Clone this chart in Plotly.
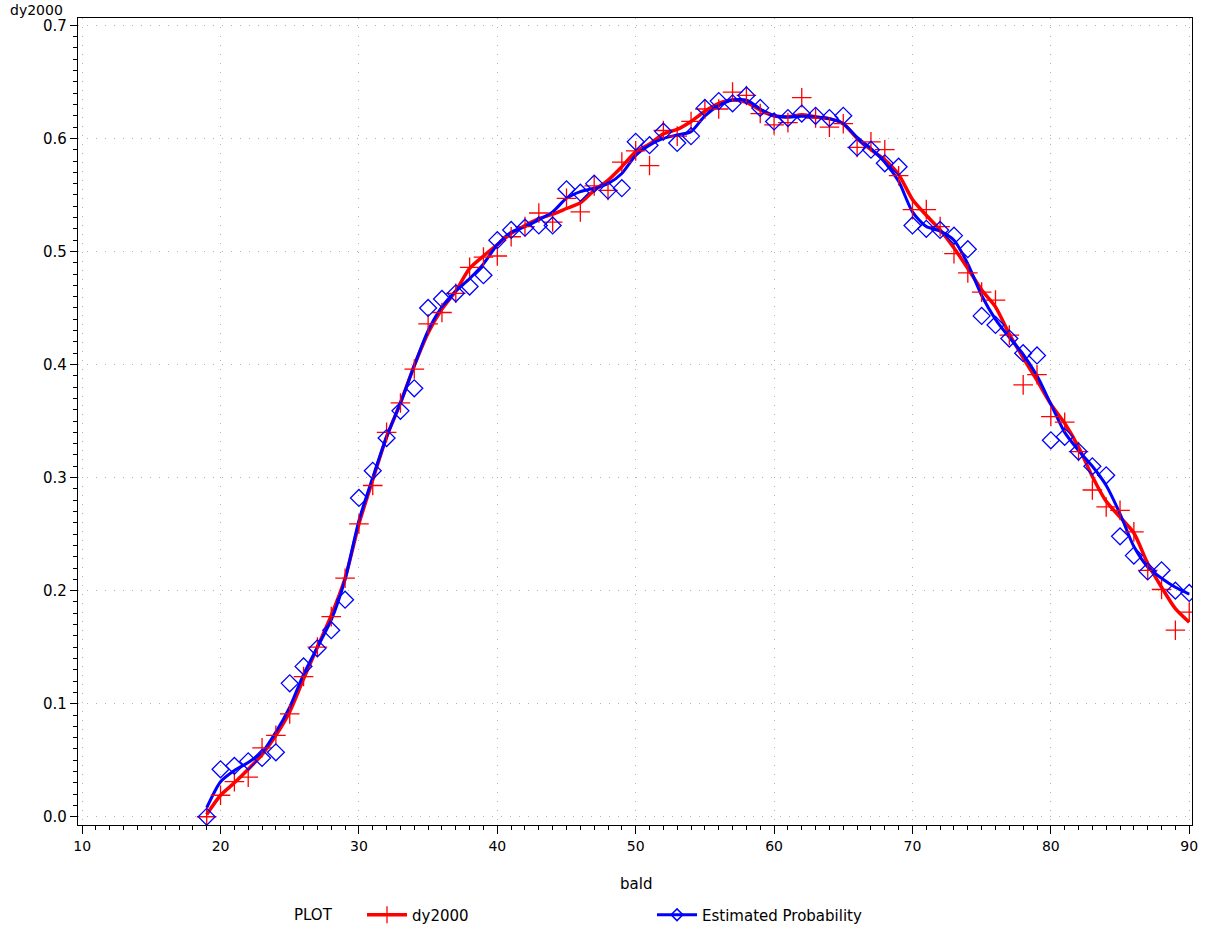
import plotly.graph_objects as go

# ---------------- data ----------------
bald = list(range(19, 91))

dy2000 = [0.000, 0.019, 0.031, 0.035, 0.061, 0.072, 0.091, 0.124, 0.150, 0.177,
          0.211, 0.259, 0.293, 0.340, 0.366, 0.396, 0.436, 0.446, 0.463, 0.486,
          0.495, 0.496, 0.513, 0.522, 0.534, 0.526, 0.547, 0.535, 0.558, 0.554,
          0.579, 0.589, 0.576, 0.607, 0.602, 0.615, 0.626, 0.626, 0.641, 0.638,
          0.622, 0.612, 0.614, 0.636, 0.618, 0.610, 0.613, 0.592, 0.597, 0.590,
          0.567, 0.537, 0.537, 0.522, 0.498, 0.481, 0.464, 0.457, 0.426, 0.382,
          0.391, 0.354, 0.349, 0.323, 0.289, 0.274, 0.271, 0.252, 0.218, 0.201,
          0.165, 0.181]

est_prob = [0.000, 0.042, 0.045, 0.049, 0.052, 0.057, 0.118, 0.133, 0.149, 0.165,
            0.192, 0.282, 0.306, 0.335, 0.359, 0.379, 0.450, 0.458, 0.463, 0.469,
            0.479, 0.510, 0.519, 0.521, 0.523, 0.523, 0.555, 0.552, 0.560, 0.554,
            0.556, 0.597, 0.594, 0.606, 0.596, 0.602, 0.627, 0.633, 0.631, 0.638,
            0.627, 0.615, 0.618, 0.622, 0.620, 0.618, 0.620, 0.592, 0.590, 0.578,
            0.575, 0.523, 0.520, 0.519, 0.514, 0.502, 0.443, 0.435, 0.423, 0.410,
            0.408, 0.333, 0.336, 0.323, 0.310, 0.302, 0.248, 0.231, 0.217, 0.218,
            0.200, 0.198]

# smoothed curves
dy2000_smooth = [0.002, 0.019, 0.030, 0.042, 0.055, 0.072, 0.093, 0.122, 0.150, 0.178,
                 0.211, 0.259, 0.298, 0.336, 0.366, 0.399, 0.428, 0.449, 0.465, 0.485,
                 0.496, 0.506, 0.516, 0.523, 0.529, 0.533, 0.538, 0.543, 0.554, 0.563,
                 0.575, 0.588, 0.595, 0.604, 0.608, 0.615, 0.624, 0.631, 0.634, 0.632,
                 0.625, 0.620, 0.619, 0.621, 0.619, 0.6175, 0.613, 0.600, 0.590, 0.581,
                 0.568, 0.546, 0.532, 0.519, 0.503, 0.485, 0.466, 0.451, 0.427, 0.406,
                 0.386, 0.365, 0.348, 0.327, 0.301, 0.279, 0.265, 0.251, 0.224, 0.203,
                 0.184, 0.172]

est_prob_smooth = [0.008, 0.031, 0.041, 0.048, 0.057, 0.075, 0.097, 0.126, 0.150, 0.174,
                   0.210, 0.262, 0.300, 0.336, 0.366, 0.399, 0.430, 0.451, 0.465, 0.476,
                   0.489, 0.506, 0.517, 0.522, 0.528, 0.535, 0.547, 0.553, 0.556, 0.560,
                   0.569, 0.585, 0.594, 0.600, 0.603, 0.606, 0.620, 0.629, 0.634, 0.634,
                   0.626, 0.620, 0.619, 0.6195, 0.619, 0.6175, 0.613, 0.601, 0.591, 0.579,
                   0.562, 0.535, 0.522, 0.518, 0.510, 0.489, 0.461, 0.440, 0.424, 0.409,
                   0.390, 0.365, 0.340, 0.324, 0.310, 0.293, 0.268, 0.239, 0.221, 0.211,
                   0.203, 0.197]

x_ticks = [10, 20, 30, 40, 50, 60, 70, 80, 90]
y_ticks = [0.0, 0.1, 0.2, 0.3, 0.4, 0.5, 0.6, 0.7]

RED = "#ff0000"
BLUE = "#0000ff"
FONT = "DejaVu Sans"
GRID = "#b4b4b4"

fig = go.Figure()

# smooth curves
fig.add_trace(go.Scatter(x=bald, y=dy2000_smooth, mode="lines", line=dict(color=RED, width=3.5, shape="spline", smoothing=0.7),
                         showlegend=False, hoverinfo="skip"))
fig.add_trace(go.Scatter(x=bald, y=est_prob_smooth, mode="lines", line=dict(color=BLUE, width=3, shape="spline", smoothing=0.7),
                         showlegend=False, hoverinfo="skip"))
# points
fig.add_trace(go.Scatter(x=bald, y=dy2000, mode="markers", name="dy2000",
                         marker=dict(symbol="cross-thin-open", size=14, line=dict(color=RED, width=1.3), color=RED),
                         showlegend=False))
fig.add_trace(go.Scatter(x=bald, y=est_prob, mode="markers", name="Estimated Probability",
                         marker=dict(symbol="diamond-open", size=13, line=dict(color=BLUE, width=1.3), color=BLUE),
                         showlegend=False))
# legend entries
fig.add_trace(go.Scatter(x=[None], y=[None], mode="lines+markers", name="dy2000",
                         line=dict(color=RED, width=3.5),
                         marker=dict(symbol="cross-thin-open", size=12, line=dict(color=RED, width=1.3), color=RED)))
fig.add_trace(go.Scatter(x=[None], y=[None], mode="lines+markers", name="Estimated Probability",
                         line=dict(color=BLUE, width=3),
                         marker=dict(symbol="diamond-open", size=9, line=dict(color=BLUE, width=1.5), color=BLUE)))

fig.update_layout(
    width=1208, height=931,
    margin=dict(l=78, r=16, t=18, b=106, autoexpand=False),
    paper_bgcolor="white", plot_bgcolor="white",
    font=dict(family=FONT, size=13, color="black"),
    showlegend=True,
    legend=dict(orientation="h", x=(362 - 78) / 1114, xanchor="left", y=-(915 - 825) / 807, yanchor="middle",
                entrywidth=235, entrywidthmode="pixels", font=dict(family=FONT, size=15), itemwidth=40,
                bgcolor="rgba(0,0,0,0)"),
    xaxis=dict(range=[9.7, 90.2], tickmode="array", tickvals=x_ticks, ticktext=[str(v) for v in x_ticks],
               showgrid=True, gridcolor=GRID, griddash="1px,8px", gridwidth=1,
               showline=True, linecolor="black", linewidth=1.3, mirror=True,
               ticks="outside", ticklen=8, tickwidth=1.3, tickcolor="black",
               minor=dict(dtick=1, ticks="outside", ticklen=4, tickwidth=1, tickcolor="black", showgrid=False),
               zeroline=False, tickfont=dict(size=14), automargin=False),
    yaxis=dict(range=[-0.0073, 0.7065], tickmode="array", tickvals=y_ticks, ticktext=["%.1f" % v for v in y_ticks],
               showgrid=True, gridcolor=GRID, griddash="1px,8px", gridwidth=1,
               showline=True, linecolor="black", linewidth=1.3, mirror=True,
               ticks="outside", ticklen=7, tickwidth=1.3, tickcolor="black",
               minor=dict(dtick=0.01, tick0=0, ticks="outside", ticklen=4, tickwidth=1, tickcolor="black", showgrid=False),
               zeroline=False, tickfont=dict(size=15), automargin=False),
    annotations=[
        dict(text="dy2000", xref="paper", yref="paper", x=(36 - 78) / 1114, y=1 + (18 - 10) / 807,
             xanchor="center", yanchor="middle", showarrow=False, font=dict(size=14)),
        dict(text="bald", xref="paper", yref="paper", x=(636 - 78) / 1114, y=-(884 - 825) / 807,
             xanchor="center", yanchor="middle", showarrow=False, font=dict(size=15)),
        dict(text="PLOT", xref="paper", yref="paper", x=(313 - 78) / 1114, y=-(915 - 825) / 807,
             xanchor="center", yanchor="middle", showarrow=False, font=dict(size=15)),
    ],
)

fig.write_html("out.html")
